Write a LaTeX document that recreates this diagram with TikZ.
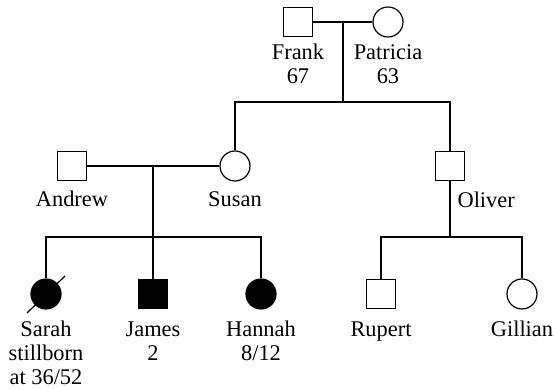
\documentclass[tikz,border=0pt]{standalone}
\usepackage{fontspec}
\setmainfont{Liberation Serif}
\usepackage{tikz}
\usetikzlibrary{positioning}

\tikzset{
  male/.style={draw, rectangle, minimum size=14.5pt, inner sep=0pt},
  female/.style={draw, circle, minimum size=15pt, inner sep=0pt},
  affected/.style={fill=black},
  person/.style={align=center, inner sep=0pt, anchor=base},
}

\begin{document}
\begin{tikzpicture}[x=0.5pt, y=-0.5pt, line width=0.6pt,
                    font=\fontsize{11.2}{12}\selectfont]
  \useasboundingbox (0,0) rectangle (554,389);

  % grandparents (labels placed by their last baseline)
  \node[male]   (frank)    at (298,22) {};
  \node[female] (patricia) at (388,22) {};
  \node[person] (frankL)    at (298,84) {Frank\\67};
  \node[person] (patriciaL) at (388,84) {Patricia\\63};

  % parents
  \node[male]   (andrew) at (72,166)  {};
  \node[female] (susan)  at (235,166) {};
  \node[male]   (oliver) at (450,166) {};
  \node[person] (andrewL) at (72,207)  {Andrew};
  \node[person] (susanL)  at (235,207) {Susan};
  \node[person, anchor=base west] (oliverL) at (457,208) {Oliver};

  % children
  \node[female, affected] (sarah)   at (46,294)  {};
  \node[male, affected]   (james)   at (153,294) {};
  \node[female, affected] (hannah)  at (261,294) {};
  \node[male]             (rupert)  at (381,294) {};
  \node[female]           (gillian) at (522,294) {};
  \node[person] (sarahL)   at (46,385)  {Sarah\\stillborn\\at 36/52};
  \node[person] (jamesL)   at (153,361) {James\\2};
  \node[person] (hannahL)  at (261,361) {Hannah\\8/12};
  \node[person] (rupertL)  at (381,337) {Rupert};
  \node[person] (gillianL) at (522,337) {Gillian};

  % stillbirth mark
  \draw ([shift={(-19,19)}]sarah.center) -- ([shift={(19,-18)}]sarah.center);

  % line junctions
  \coordinate (fpKids) at (343,102);
  \coordinate (asKids) at (153,237);
  \coordinate (olKids) at (450,237);

  \draw (frank.east) -- (patricia.west);
  \draw (frank.east -| fpKids) -- (fpKids);
  \draw (susan.north) -- (susan.north |- fpKids) -- (oliver.north |- fpKids) -- (oliver.north);

  \draw (andrew.east) -- (susan.west);
  \draw (andrew.east -| asKids) -- (asKids);
  \draw (sarah.north) -- (sarah.north |- asKids) -- (hannah.north |- asKids) -- (hannah.north);
  \draw (asKids) -- (james.north);

  \draw (oliver.south) -- (olKids);
  \draw (rupert.north) -- (rupert.north |- olKids) -- (gillian.north |- olKids) -- (gillian.north);
\end{tikzpicture}
\end{document}
